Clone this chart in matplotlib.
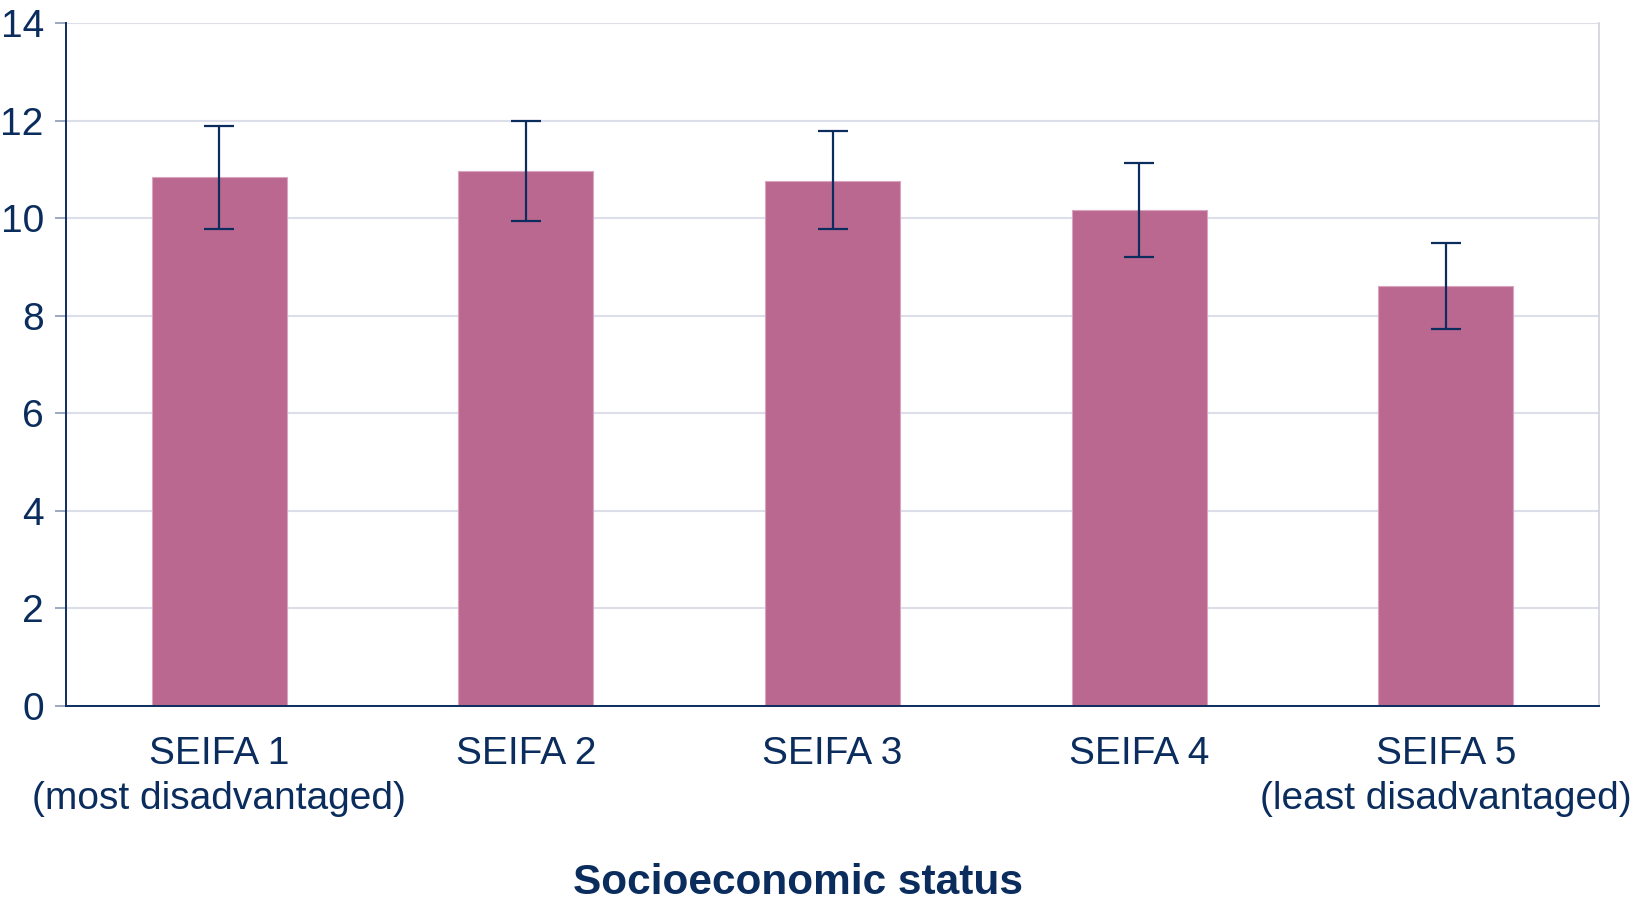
import matplotlib.pyplot as plt
import numpy as np

plt.rcParams['font.family'] = ['Liberation Sans', 'DejaVu Sans']

categories = ["SEIFA 1\n(most disadvantaged)", "SEIFA 2", "SEIFA 3", "SEIFA 4",
              "SEIFA 5\n(least disadvantaged)"]
values = [10.84, 10.96, 10.76, 10.16, 8.60]
err_low = [9.78, 9.93, 9.78, 9.20, 7.73]
err_high = [11.88, 11.99, 11.78, 11.12, 9.49]
yticks = [0, 2, 4, 6, 8, 10, 12, 14]

navy = "#0B2D5E"
bar_col = "#BB6890"
grid_col = "#DCDFEA"

fig = plt.figure(figsize=(16.33, 9), dpi=100)
ax = fig.add_axes([0.0404, 0.2161, 0.9388, 0.7583])

x = np.arange(len(categories))
yerr = [np.array(values) - np.array(err_low), np.array(err_high) - np.array(values)]
ax.bar(x, values, width=0.44, color=bar_col, edgecolor="#D8A4BE", linewidth=0.8, zorder=2)
ax.errorbar(x, values, yerr=yerr, fmt="none", ecolor=navy, elinewidth=1.6,
            capsize=10.5, capthick=1.6, zorder=3)

ax.set_xlim(-0.5, len(categories) - 0.5)
ax.set_ylim(0, 14)
ax.set_yticks(yticks)
ax.set_xticks(x)
ax.set_xticklabels(categories, fontsize=28, color=navy, linespacing=1.32)
ax.tick_params(axis="x", length=0, pad=22)
ax.tick_params(axis="y", labelsize=28, labelcolor=navy, length=8, width=1.2,
               color="#8A9AB5", pad=8)

ax.grid(axis="y", color=grid_col, linewidth=1.5, zorder=0)
ax.set_axisbelow(True)

ax.spines["top"].set_visible(False)
ax.spines["left"].set_color(navy)
ax.spines["left"].set_linewidth(1.4)
ax.spines["bottom"].set_color(navy)
ax.spines["bottom"].set_linewidth(1.4)
ax.spines["right"].set_color("#D0D3DC")
ax.spines["right"].set_linewidth(1.2)

ax.set_xlabel("Socioeconomic status", fontsize=30.5, fontweight="bold", color=navy)
ax.xaxis.set_label_coords(0.4775, -0.231)

fig.savefig("out.png", dpi=100)
